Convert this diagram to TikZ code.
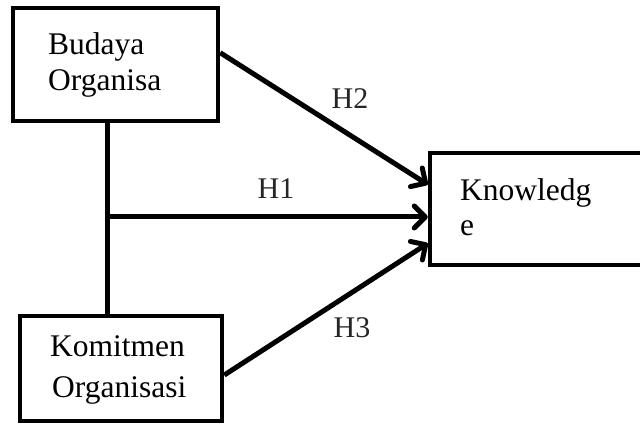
\documentclass[tikz,border=0pt]{standalone}
\usepackage{fontspec}
\setmainfont{Liberation Serif}
\usetikzlibrary{arrows.meta,calc}
\tikzset{
  box/.style={draw=black, line width=4.5pt, fill=white, inner sep=0pt, rectangle},
  boxtext/.style={font=\fontsize{31.5}{31.5}\selectfont, inner sep=0pt, anchor=base west},
  hlabel/.style={font=\fontsize{30}{30}\selectfont, inner sep=0pt, text=black!85},
  link/.style={line width=5pt},
  arrowlink/.style={line width=5pt, -{Straight Barb[length=11pt,width=22pt,round]}},
}
\begin{document}
\begin{tikzpicture}[x=1pt,y=-1pt]
\useasboundingbox (0,0) rectangle (640,427);
\fill[white] (0,0) rectangle (640,427);
% boxes
\node[box, minimum width=205pt, minimum height=113pt] (bud) at (115.5,64.5) {};
\node[box, minimum width=202pt, minimum height=105pt] (kom) at (121,368.5) {};
\node[box, minimum width=230pt, minimum height=112pt] (know) at (545,209) {};
% texts
\node[boxtext] (t1) at (48,55) {Budaya};
\node[boxtext] (t2) at (48,91) {Organisa};
\node[boxtext] (t3) at (50,357) {Komitmen};
\node[boxtext] (t4) at (52,398) {Organisasi};
\node[boxtext] (t5) at (460,201) {Knowledg};
\node[boxtext] (t6) at (460,236) {e};
% connectors
\coordinate (j) at (107,217);
\draw[link] (j |- bud.south) -- (j |- kom.north);
\draw[arrowlink] (j) -- (know.west |- j);
\draw[arrowlink] ($(bud.north east)!0.4!(bud.south east)$) -- ($(know.north west)!0.29!(know.south west)$);
\draw[arrowlink] ($(kom.north east)!0.56!(kom.south east)$) -- ($(know.north west)!0.795!(know.south west)$);
% labels
\node[hlabel] (h2) at (350,99) {H2};
\node[hlabel] (h1) at (276,189) {H1};
\node[hlabel] (h3) at (352,328) {H3};
\end{tikzpicture}
\end{document}
